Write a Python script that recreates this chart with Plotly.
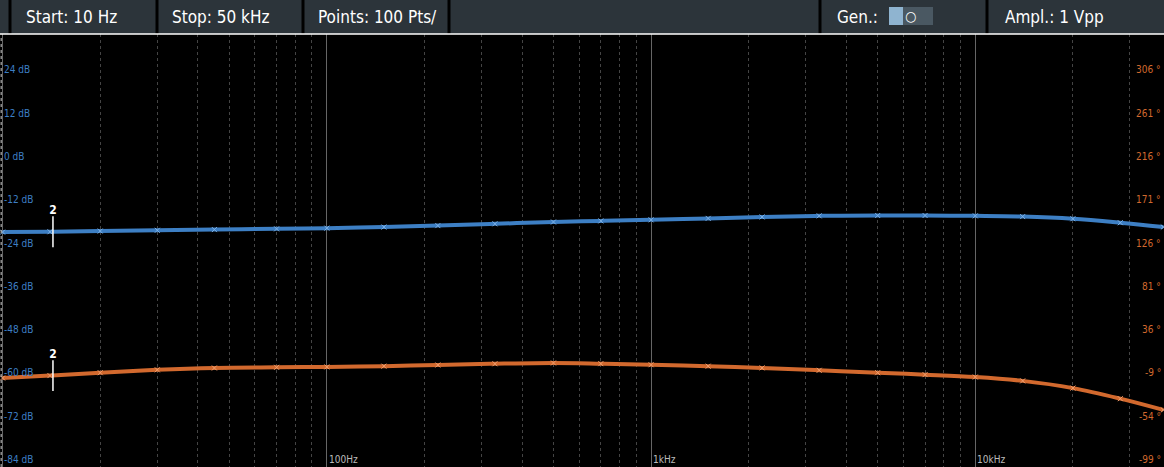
import numpy as np
import plotly.graph_objects as go

# frequency points (Hz)
freq = [10, 14, 20, 30, 45, 70, 100, 150, 220, 330, 500, 700, 1000, 1500, 2200, 3300, 5000, 7000, 10000, 14000, 20000, 28000, 38000]
# blue trace (dB, left axis)
gain_db = [-18.9, -18.8, -18.6, -18.4, -18.2, -18.0, -17.8, -17.5, -17.1, -16.6, -16.1, -15.8, -15.5, -15.1, -14.7, -14.4, -14.3, -14.3, -14.4, -14.6, -15.2, -16.3, -17.5]
# orange trace (deg, right axis)
phase_deg = [-6.5, -4.0, -1.0, 2.0, 3.9, 4.6, 5.0, 5.8, 7.0, 8.3, 9.1, 8.4, 7.3, 5.8, 4.0, 1.5, -1.0, -3.0, -5.5, -9.5, -17.0, -28.0, -39.7]

db_ticks = [24, 12, 0, -12, -24, -36, -48, -60, -72, -84]
deg_ticks = [306, 261, 216, 171, 126, 81, 36, -9, -54, -99]
freq_ticks = [100, 1000, 10000]
freq_labels = ["100Hz", "1kHz", "10kHz"]
ref_freq = 14.3  # position of the "2" reference markers

BLUE = "#3d7fc4"
ORANGE = "#d2692e"
TOP = 34 / 433  # status bar height in paper units

fig = go.Figure()
fig.add_trace(go.Scatter(x=freq, y=gain_db, mode="lines+markers", line=dict(color=BLUE, width=4),
                         marker=dict(symbol="x-thin", size=5, line=dict(color="#7fb2e6", width=1)),
                         line_shape="spline", showlegend=False))
fig.add_trace(go.Scatter(x=freq, y=phase_deg, mode="lines+markers", yaxis="y2", line=dict(color=ORANGE, width=4),
                         marker=dict(symbol="x-thin", size=5, line=dict(color="#f0a070", width=1)),
                         line_shape="spline", showlegend=False))

# reference markers "2" with a short white bar
for yax, yv in [("y", gain_db[1]), ("y2", phase_deg[1])]:
    fig.add_trace(go.Scatter(x=[ref_freq], y=[yv], yaxis=yax, mode="markers+text", text=["<b>2</b>"],
                             textposition="top center", textfont=dict(color="white", size=12),
                             marker=dict(symbol="line-ns", size=22, line=dict(color="white", width=1.5)),
                             showlegend=False))

ann = []
for v in db_ticks:
    ann.append(dict(x=0.002, xref="paper", y=v, yref="y", text=f"{v} dB", showarrow=False,
                    xanchor="left", yanchor="bottom", font=dict(color=BLUE, size=10)))
for v in deg_ticks:
    ann.append(dict(x=0.999, xref="paper", y=v, yref="y2", text=f"{v} °", showarrow=False,
                    xanchor="right", yanchor="bottom", font=dict(color=ORANGE, size=10)))
for f, t in zip(freq_ticks, freq_labels):
    ann.append(dict(x=np.log10(f), xref="x", y=0, yref="paper", text=t, showarrow=False,
                    xanchor="left", yanchor="bottom", font=dict(color="#bbbbbb", size=10)))

shapes = []
# top status bar
shapes.append(dict(type="rect", xref="paper", yref="paper", x0=0, x1=1, y0=1, y1=1 + TOP,
                   fillcolor="#2c343a", line_width=0, layer="below"))
for xs in [10, 157, 303, 449, 820, 987]:
    shapes.append(dict(type="line", xref="paper", yref="paper", x0=xs / 1164, x1=xs / 1164, y0=1, y1=1 + TOP,
                       line=dict(color="black", width=3)))
shapes.append(dict(type="line", xref="paper", yref="paper", x0=0, x1=1, y0=1, y1=1, line=dict(color="white", width=1.5)))
shapes.append(dict(type="rect", xref="paper", yref="paper", x0=889 / 1164, x1=933 / 1164, y0=1 + 9 / 433, y1=1 + 27 / 433,
                   fillcolor="#4a5862", line_width=0))
shapes.append(dict(type="rect", xref="paper", yref="paper", x0=889 / 1164, x1=903 / 1164, y0=1 + 9 / 433, y1=1 + 27 / 433,
                   fillcolor="#8fb4d0", line_width=0))
shapes.append(dict(type="line", xref="paper", yref="paper", x0=0.001, x1=0.001, y0=0, y1=1,
                   line=dict(color="#cccccc", width=1, dash="dot")))

for txt, xp in [("Start: 10 Hz", 24), ("Stop: 50 kHz", 170), ("Points: 100 Pts/", 316), ("Gen.:", 835), ("Ampl.: 1 Vpp", 1003)]:
    ann.append(dict(x=xp / 1164, xref="paper", y=1 + 17 / 433, yref="paper", text=txt, showarrow=False,
                    xanchor="left", yanchor="middle", font=dict(color="white", size=17)))
ann.append(dict(x=918 / 1164, xref="paper", y=1 + 18 / 433, yref="paper", text="○", showarrow=False,
                yanchor="middle", font=dict(color="white", size=14)))

fig.update_layout(
    width=1164, height=467, margin=dict(l=0, r=0, t=34, b=0),
    paper_bgcolor="black", plot_bgcolor="black",
    font=dict(family="DejaVu Sans Condensed, Liberation Sans Narrow, sans-serif"),
    xaxis=dict(type="log", range=[0.992, 4.582], dtick=1, showticklabels=False, showgrid=True,
               gridcolor="#666666", gridwidth=1, zeroline=False,
               minor=dict(dtick="D1", showgrid=True, gridcolor="#444444", griddash="dot")),
    yaxis=dict(range=[-84, 36], showticklabels=False, showgrid=False, zeroline=False),
    yaxis2=dict(range=[-99, 351], overlaying="y", side="right", showticklabels=False, showgrid=False, zeroline=False),
    annotations=ann, shapes=shapes,
)
fig.write_html("out.html", config={"displayModeBar": False},
               post_script="document.body.style.margin='0';document.body.style.background='black';")
